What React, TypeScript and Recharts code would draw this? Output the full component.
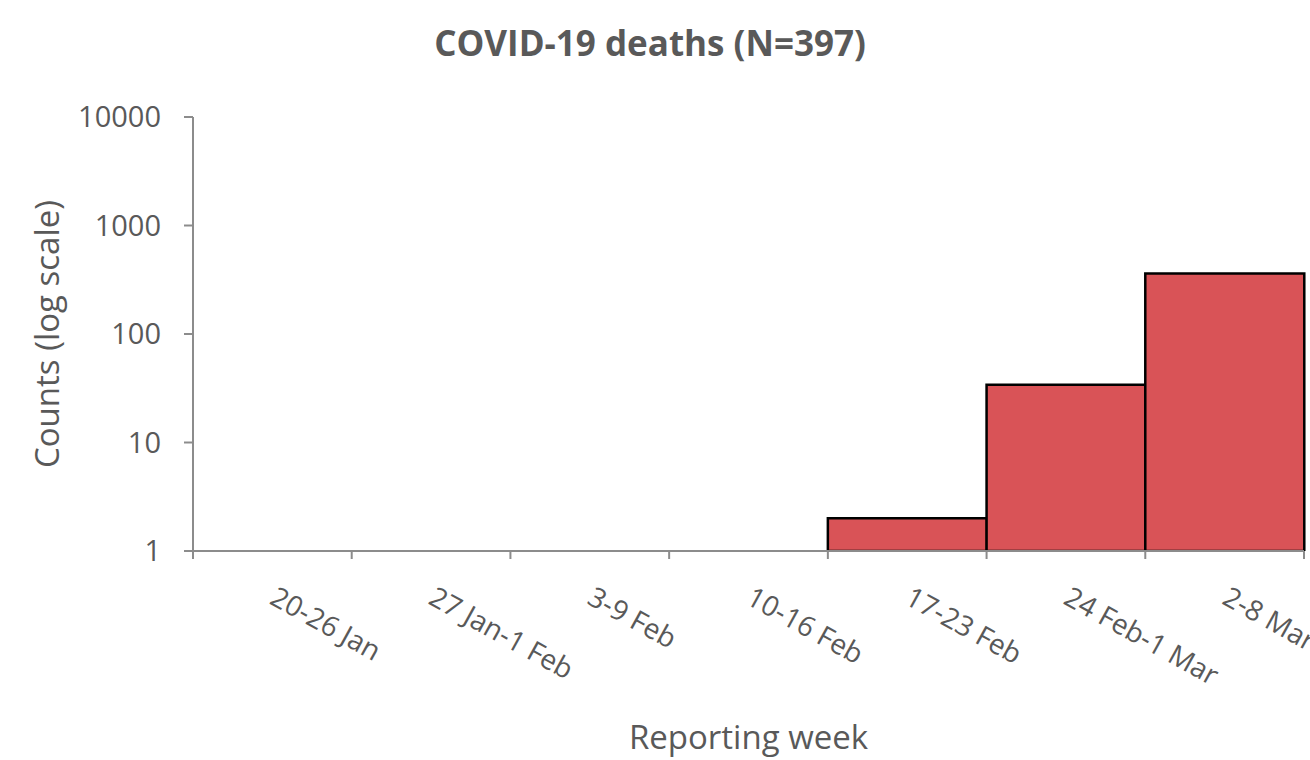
import React from 'react';
import { BarChart, Bar, XAxis, YAxis, Label } from 'recharts';

// weekly COVID-19 deaths
const weeks = ['20-26 Jan', '27 Jan-1 Feb', '3-9 Feb', '10-16 Feb', '17-23 Feb', '24 Feb-1 Mar', '2-8 Mar'];
const deaths = [0, 0, 0, 0, 2, 34, 361];
const yTicks = [1, 10, 100, 1000, 10000];

// a log axis has no place for zero, so empty weeks get no bar
const data = weeks.map((week, i) => ({ week, deaths: deaths[i] > 0 ? deaths[i] : null }));

const WIDTH = 1310;
const HEIGHT = 760;
const MARGIN = { top: 117, right: 6, bottom: 0, left: 0 };
const Y_AXIS_W = 193;
const X_AXIS_H = 209;
const STEP = (WIDTH - MARGIN.left - MARGIN.right - Y_AXIS_W) / weeks.length;

const FONT = '"Open Sans", sans-serif';
const TEXT = '#595959';
const AXIS = '#8c8c8c';
const TICK_LEN = 8;

const WeekTick = (props: any) => {
  const { x, y, payload, index } = props;
  const axisY = y - TICK_LEN;
  return (
    <g>
      <line x1={x - STEP / 2} x2={x - STEP / 2} y1={axisY} y2={axisY + TICK_LEN} stroke={AXIS} strokeWidth={2} />
      {index === weeks.length - 1 && (
        <line x1={x + STEP / 2} x2={x + STEP / 2} y1={axisY} y2={axisY + TICK_LEN} stroke={AXIS} strokeWidth={2} />
      )}
      <g transform={`translate(${x - 4},${y + 44}) rotate(29)`}>
        <text x={0} y={0} textAnchor="start" fill={TEXT} fontSize={28} fontFamily={FONT}>
          {payload.value}
        </text>
      </g>
    </g>
  );
};

const App: React.FC = () => {
  return (
    <div style={{ position: 'absolute', left: 0, top: 0, width: WIDTH, height: HEIGHT, overflow: 'hidden', background: '#fff' }}>
      <div
        style={{
          position: 'absolute',
          left: 0,
          top: 21,
          width: WIDTH - 10,
          textAlign: 'center',
          fontFamily: FONT,
          fontWeight: 700,
          fontSize: 35,
          lineHeight: '44px',
          color: TEXT,
        }}
      >
        COVID-19 deaths (N=397)
      </div>
      <BarChart width={WIDTH} height={HEIGHT} data={data} margin={MARGIN} barCategoryGap={0}>
        <XAxis
          dataKey="week"
          height={X_AXIS_H}
          interval={0}
          axisLine={{ stroke: AXIS, strokeWidth: 2 }}
          tickLine={false}
          tickSize={TICK_LEN}
          tickMargin={0}
          tick={<WeekTick />}
        >
          <Label
            content={(p: any) => {
              const vb = p.viewBox;
              return (
                <text x={vb.x + vb.width / 2} y={vb.y + 198} textAnchor="middle" fill={TEXT} fontSize={33} fontFamily={FONT}>
                  Reporting week
                </text>
              );
            }}
          />
        </XAxis>
        <YAxis
          width={Y_AXIS_W}
          scale="log"
          domain={[1, 10000]}
          ticks={yTicks}
          allowDataOverflow
          axisLine={{ stroke: AXIS, strokeWidth: 2 }}
          tickLine={{ stroke: AXIS, strokeWidth: 2 }}
          tickSize={9}
          tickMargin={23}
          tick={{ fill: TEXT, fontSize: 29, fontFamily: FONT }}
        >
          <Label
            content={(p: any) => {
              const vb = p.viewBox;
              const cx = 46;
              const cy = vb.y + vb.height / 2;
              return (
                <text
                  x={cx}
                  y={cy}
                  transform={`rotate(-90 ${cx} ${cy})`}
                  textAnchor="middle"
                  dominantBaseline="central"
                  fill={TEXT}
                  fontSize={33}
                  fontFamily={FONT}
                >
                  Counts (log scale)
                </text>
              );
            }}
          />
        </YAxis>
        <Bar dataKey="deaths" fill="#d95357" stroke="#000" strokeWidth={2.5} isAnimationActive={false} />
      </BarChart>
    </div>
  );
};

export default App;
